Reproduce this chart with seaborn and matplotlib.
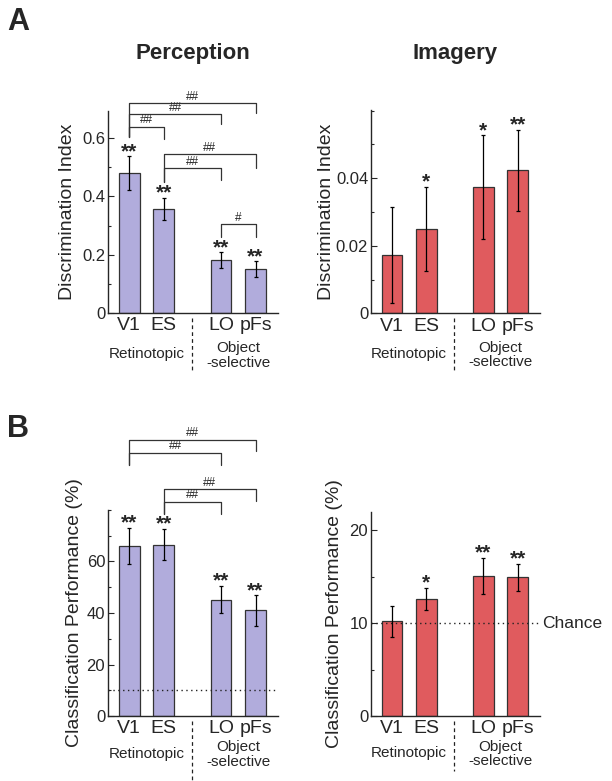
import numpy as np
import pandas as pd
import matplotlib
matplotlib.use("Agg")
import matplotlib.pyplot as plt
import matplotlib.transforms as mtransforms
from matplotlib.ticker import MultipleLocator
import seaborn as sns

# values (mean, error)
regions = ["V1", "ES", "LO", "pFs"]

perc_di = [0.479, 0.356, 0.181, 0.150]
perc_di_err = [0.058, 0.038, 0.027, 0.027]
perc_di_stars = ["**", "**", "**", "**"]

imag_di = [0.0173, 0.0250, 0.0374, 0.0423]
imag_di_err = [0.0143, 0.0125, 0.0153, 0.0121]
imag_di_stars = ["", "*", "*", "**"]

perc_cp = [66.1, 66.6, 45.2, 41.0]
perc_cp_err = [7.1, 6.2, 5.3, 5.9]
perc_cp_stars = ["**", "**", "**", "**"]

imag_cp = [10.2, 12.6, 15.1, 14.95]
imag_cp_err = [1.7, 1.2, 1.95, 1.45]
imag_cp_stars = ["", "*", "**", "**"]

chance = 10

# pairwise comparisons: (i, j, bar height, left leg end, right leg end, label)
perc_di_pairs = [(0, 3, 0.719, 0.605, 0.687, "##"),
                 (0, 2, 0.682, 0.605, 0.648, "##"),
                 (0, 1, 0.639, 0.605, 0.596, "##"),
                 (1, 3, 0.544, 0.450, 0.498, "##"),
                 (1, 2, 0.496, 0.450, 0.456, "##"),
                 (2, 3, 0.304, 0.260, 0.260, "#")]
perc_cp_pairs = [(0, 3, 107.2, 97.5, 102.9, "##"),
                 (0, 2, 102.3, 97.5, 97.6, "##"),
                 (1, 3, 88.0, 78.3, 83.4, "##"),
                 (1, 2, 83.2, 78.3, 78.3, "##")]

PURPLE = "#b1acdc"
RED = "#e05b5e"
GAP = 0.65  # extra space between retinotopic and object-selective groups

sns.set_style("ticks")
plt.rcParams["font.family"] = ["Liberation Sans", "DejaVu Sans"]
plt.rcParams["axes.linewidth"] = 1.0

pos = np.array([0, 1, 2 + GAP, 3 + GAP])


def panel(ax, vals, errs, stars, color, ylim, ticks, ticklabels, minor, ylabel, labx):
    df = pd.DataFrame({"pos": pos, "val": vals})
    sns.barplot(data=df, x="pos", y="val", native_scale=True, orient="x", width=0.6,
                color=color, saturation=1, edgecolor="#333333", linewidth=0.9,
                errorbar=None, ax=ax)
    ax.errorbar(pos, vals, yerr=errs, fmt="none", ecolor="black", elinewidth=0.9,
                capsize=1.5, capthick=0.9, zorder=5)
    for p, v, e, s in zip(pos, vals, errs, stars):
        if s:
            ax.annotate(s, (p, v + e), xytext=(0, -0.5), textcoords="offset points",
                        ha="center", va="baseline", fontsize=15, fontweight="bold",
                        annotation_clip=False)
    ax.set_xlim(-0.61, 4.3)
    ax.set_ylim(*ylim)
    ax.set_xticks(pos)
    ax.set_xticklabels(regions, fontsize=14)
    ax.set_yticks(ticks)
    ax.set_yticklabels(ticklabels, fontsize=12)
    ax.yaxis.set_minor_locator(MultipleLocator(minor))
    ax.tick_params(axis="x", length=0, pad=3)
    ax.tick_params(axis="y", which="major", direction="in", length=4, width=0.8, pad=2)
    ax.tick_params(axis="y", which="minor", direction="in", length=2.5, width=0.8)
    ax.set_xlabel("")
    ax.set_ylabel(ylabel, fontsize=14)
    ax.yaxis.set_label_coords(labx, 0.5)
    sns.despine(ax=ax)


def groups(ax, ytxt, ydash):
    trans = mtransforms.blended_transform_factory(ax.transData, ax.transAxes)
    div = (pos[1] + pos[2]) / 2 - 0.01
    ax.plot([div, div], [-0.025, ydash], ls=(0, (3, 2.5)), color="#222222", lw=0.9,
            transform=trans, clip_on=False)
    ax.text((pos[0] + pos[1]) / 2, ytxt, "Retinotopic", transform=trans,
            ha="center", va="center", fontsize=11)
    ax.text((pos[2] + pos[3]) / 2, ytxt - 0.005, "Object\n-selective", transform=trans,
            ha="center", va="center", fontsize=11, linespacing=1.05)


def brackets(ax, pairs):
    for i, j, y, yl, yr, lab in pairs:
        ax.plot([pos[i], pos[i], pos[j], pos[j]], [yl, y, y, yr], color="#333333",
                lw=0.9, clip_on=False)
        ax.annotate(lab, ((pos[i] + pos[j]) / 2, y), xytext=(0, 4.8),
                    textcoords="offset points", ha="center", va="center", fontsize=8.5,
                    annotation_clip=False)


fig = plt.figure(figsize=(6.12, 7.81), dpi=100)

ax1 = fig.add_axes([0.1765, 0.5992, 0.2778, 0.2587])
panel(ax1, perc_di, perc_di_err, perc_di_stars, PURPLE, (0, 0.693),
      [0, 0.2, 0.4, 0.6], ["0", "0.2", "0.4", "0.6"], 0.1, "Discrimination Index", -0.19)
brackets(ax1, perc_di_pairs)
groups(ax1, -0.205, -0.28)

ax2 = fig.add_axes([0.6062, 0.5988, 0.2761, 0.2604])
panel(ax2, imag_di, imag_di_err, imag_di_stars, RED, (0, 0.0602),
      [0, 0.02, 0.04], ["0", "0.02", "0.04"], 0.01, "Discrimination Index", -0.215)
groups(ax2, -0.2, -0.28)

ax3 = fig.add_axes([0.1765, 0.0832, 0.2778, 0.2638])
panel(ax3, perc_cp, perc_cp_err, perc_cp_stars, PURPLE, (0, 80),
      [0, 20, 40, 60], ["0", "20", "40", "60"], 10, "Classification Performance (%)", -0.15)
brackets(ax3, perc_cp_pairs)
ax3.axhline(chance, ls=(0, (1, 2.5)), color="#222222", lw=1.0, zorder=1)
groups(ax3, -0.183, -0.31)

ax4 = fig.add_axes([0.6062, 0.0832, 0.2761, 0.2616])
panel(ax4, imag_cp, imag_cp_err, imag_cp_stars, RED, (0, 22),
      [0, 10, 20], ["0", "10", "20"], 5, "Classification Performance (%)", -0.166)
ax4.axhline(chance, ls=(0, (1, 2.5)), color="#222222", lw=1.0, zorder=1)
ax4.text(1.01, chance, "Chance", transform=mtransforms.blended_transform_factory(ax4.transAxes, ax4.transData),
         ha="left", va="center", fontsize=12.5)
groups(ax4, -0.18, -0.27)

fig.text(193 / 612, 1 - 53 / 781, "Perception", ha="center", va="center", fontsize=16, fontweight="bold")
fig.text(455 / 612, 1 - 53 / 781, "Imagery", ha="center", va="center", fontsize=16, fontweight="bold")
fig.text(18 / 612, 1 - 22 / 781, "A", ha="center", va="center", fontsize=22, fontweight="bold")
fig.text(18 / 612, 1 - 429 / 781, "B", ha="center", va="center", fontsize=22, fontweight="bold")

plt.savefig("out.png", dpi=100)
